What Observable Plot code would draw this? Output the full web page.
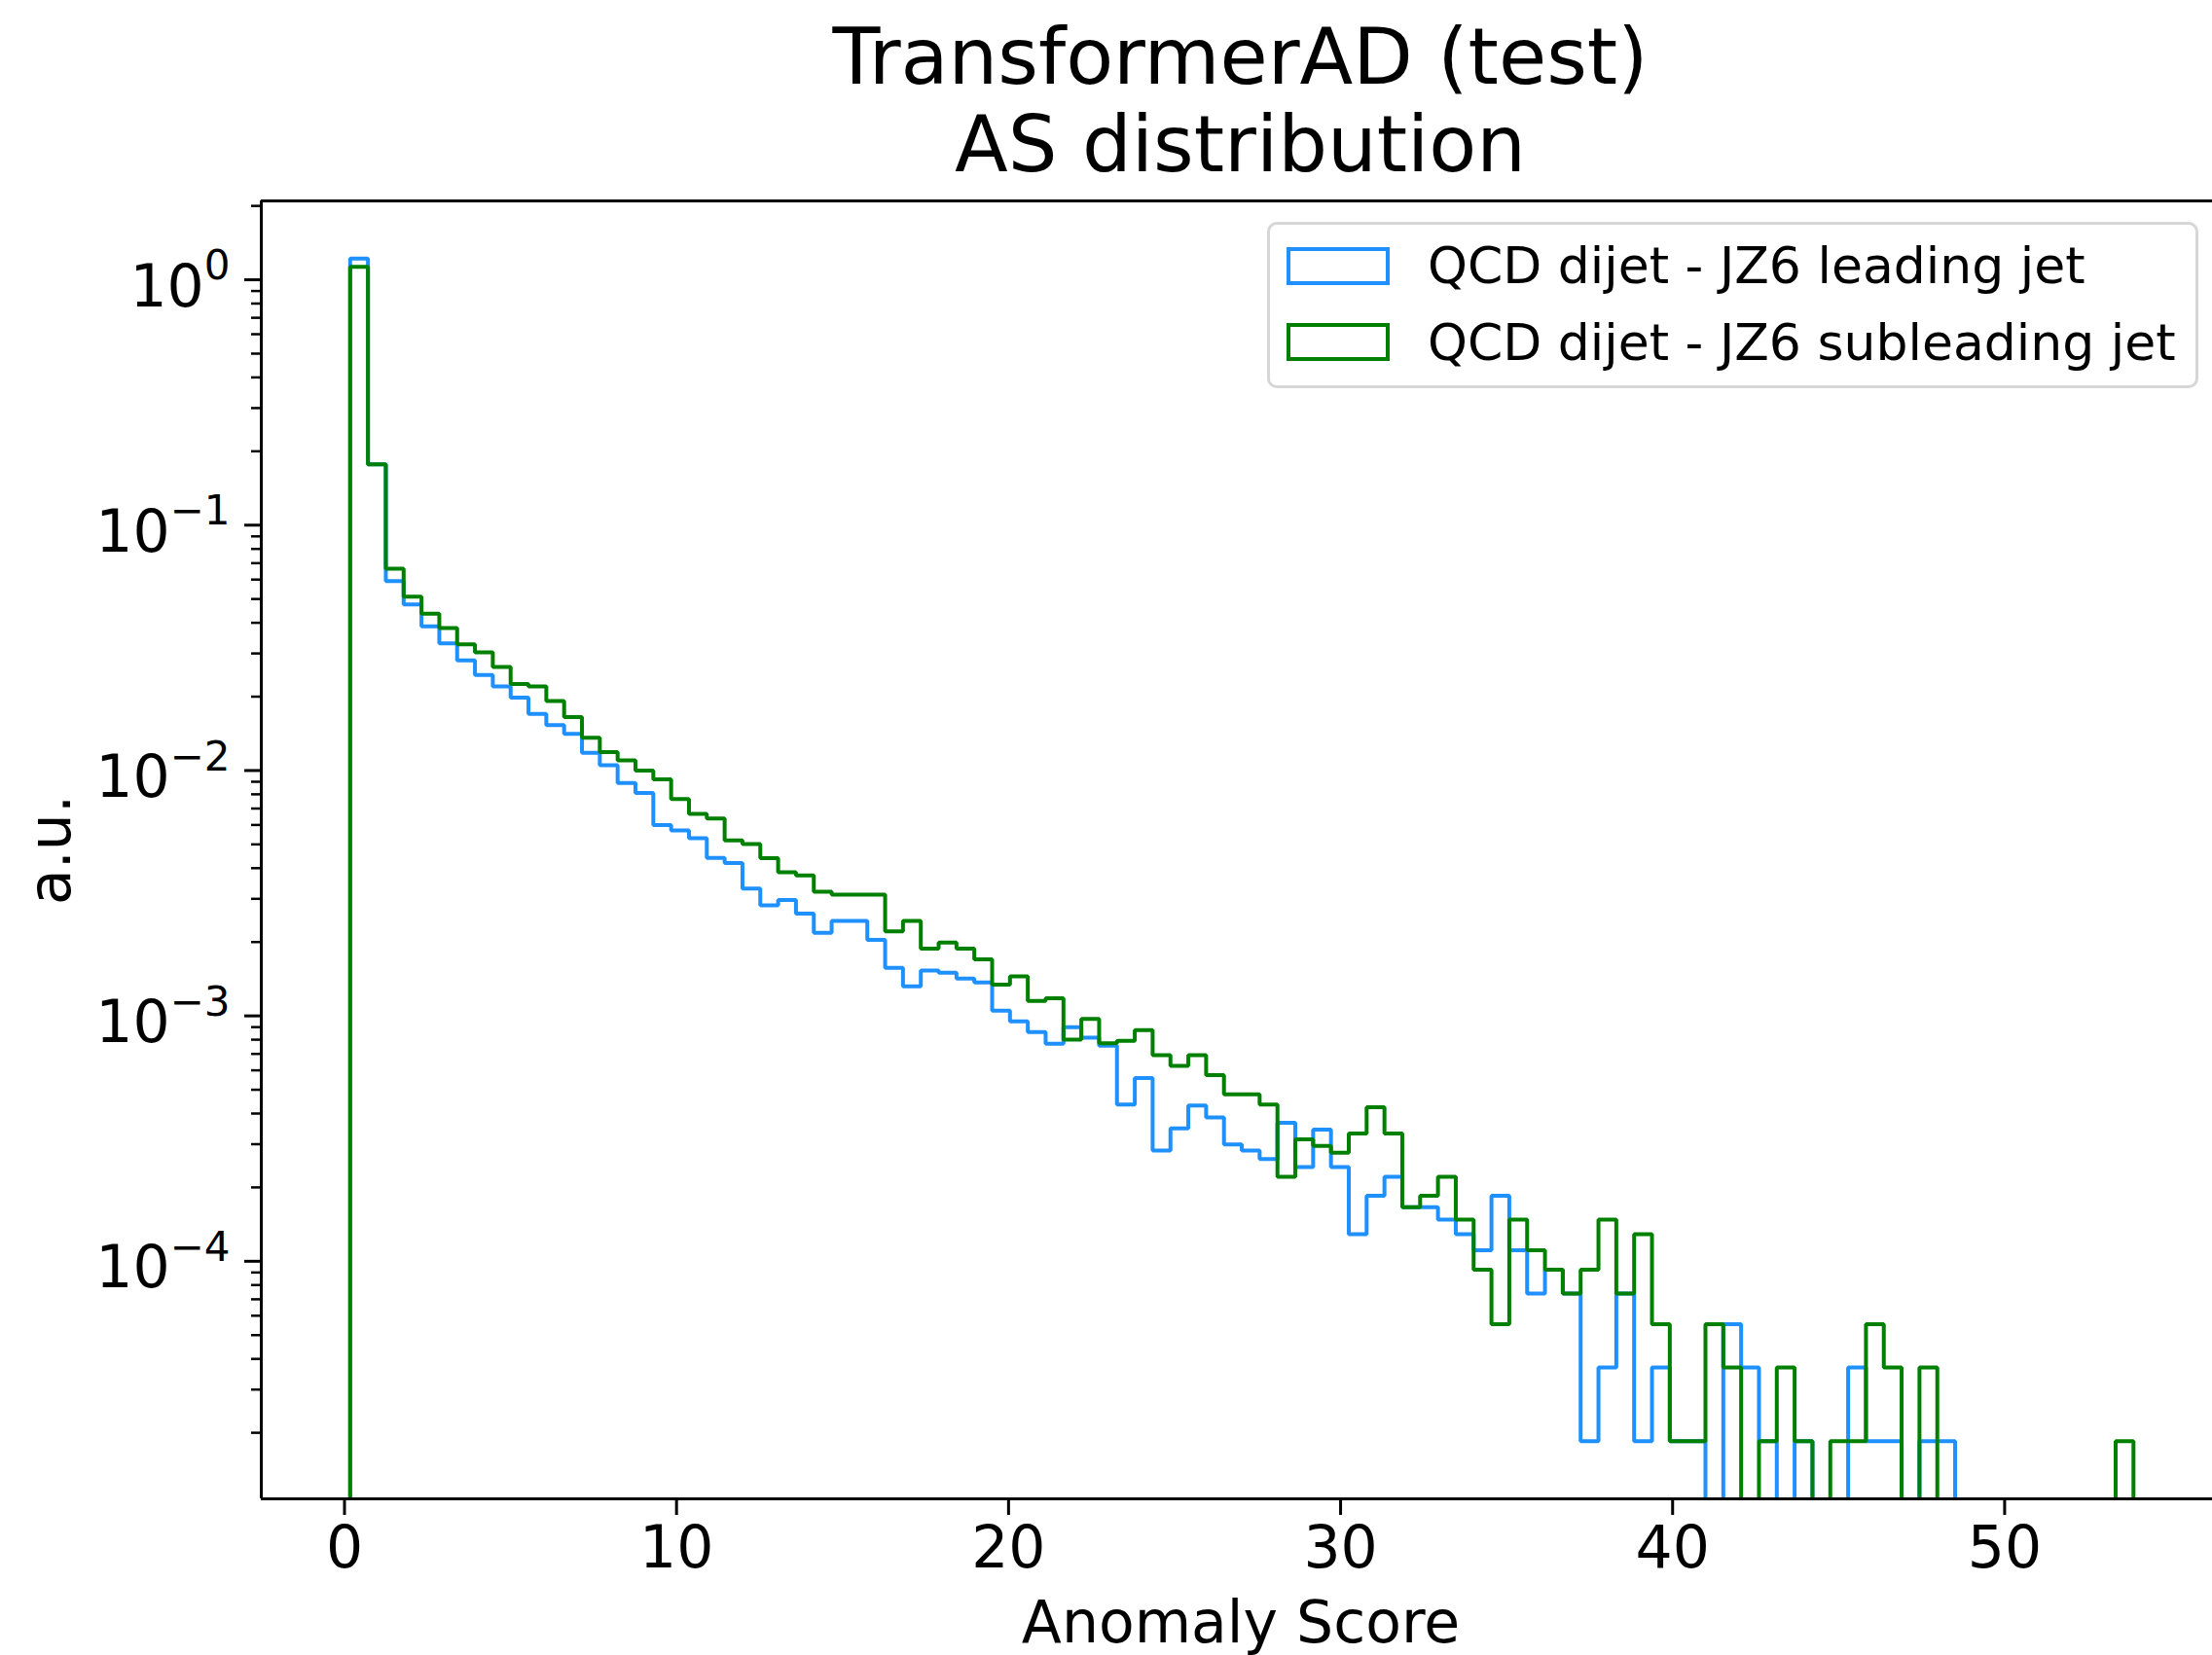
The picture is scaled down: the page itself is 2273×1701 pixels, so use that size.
<!DOCTYPE html>
<html>
<head>
<meta charset="utf-8">
<script src="https://cdn.jsdelivr.net/npm/d3@7"></script>
<script src="https://cdn.jsdelivr.net/npm/@observablehq/plot@0.6"></script>
<style>
html, body { margin: 0; padding: 0; background: #fff; overflow: hidden; }
#wrap { position: relative; width: 2273px; height: 1701px; font-family: "DejaVu Sans", sans-serif; color: #000; }
#title { position: absolute; left: 276px; width: 1997px; top: 14px; text-align: center; font-size: 80px; line-height: 90px; }
#chart { position: absolute; left: 0; top: 190px; }
#legend { position: absolute; left: 1302px; top: 228px; width: 957px; height: 171px; box-sizing: border-box;
  border: 3px solid #d6d6d6; border-radius: 10px; background: #fff; }
.handle { position: absolute; left: 17px; width: 106px; height: 39px; box-sizing: border-box; border: 4px solid; background: #fff; }
.ltext { position: absolute; left: 162px; height: 60px; line-height: 60px; font-size: 52px; white-space: nowrap; }
</style>
</head>
<body>
<div id="wrap">
  <div id="title">TransformerAD (test)<br>AS distribution</div>
  <div id="chart"></div>
  <div id="legend"></div>
</div>
<script>
// ---- data ----
const titleLines = ["TransformerAD (test)", "AS distribution"];
const xLabel = "Anomaly Score";
const yLabel = "a.u.";
const seriesNames = ["QCD dijet - JZ6 leading jet", "QCD dijet - JZ6 subleading jet"];
const seriesColors = ["#1e90ff", "#008000"];
const binLo = 0.17, binHi = 53.88, nBins = 100;

const leadingJet = [
  1.22, 0.177, 0.0591, 0.0475, 0.0387, 0.0330, 0.0281, 0.0245, 0.0220, 0.0198,
  0.0170, 0.0153, 0.0141, 0.0118, 0.0105, 0.0089, 0.0081, 0.0060, 0.0057, 0.0053,
  0.0044, 0.0042, 0.00330, 0.00282, 0.00297, 0.00261, 0.00218, 0.00244, 0.00244, 0.00204,
  0.00157, 0.00132, 0.00153, 0.00150, 0.00142, 0.00137, 0.00105, 0.00095, 0.00086, 0.00077,
  0.00090, 0.000815, 0.000757, 0.000435, 0.000558, 0.000283, 0.000348, 0.000431, 0.000386, 0.000299,
  0.000283, 0.000261, 0.000367, 0.000242, 0.000344, 0.000242, 0.000129, 0.000185, 0.000221, 0.000166,
  0.000166, 0.000148, 0.000129, 0.000111, 0.000185, 0.000111, 0.0000738, 0.0000923, 0.0000738, 0.0000185,
  0.0000369, 0.0000738, 0.0000185, 0.0000369, 0.0000185, 0.0000185, 0, 0.0000554, 0.0000369, 0.0000185,
  0, 0.0000185, 0, 0, 0.0000369, 0.0000185, 0.0000185, 0, 0.0000185, 0.0000185,
  0, 0, 0, 0, 0, 0, 0, 0, 0, 0
];
const subleadingJet = [
  1.13, 0.177, 0.0664, 0.0511, 0.0436, 0.0381, 0.0327, 0.0303, 0.0264, 0.0225,
  0.0220, 0.0192, 0.0165, 0.0136, 0.0119, 0.0110, 0.0100, 0.0092, 0.00766, 0.00665,
  0.00638, 0.00519, 0.00502, 0.00439, 0.00385, 0.00374, 0.00321, 0.00312, 0.00312, 0.00312,
  0.00221, 0.00244, 0.00188, 0.00199, 0.00188, 0.00170, 0.00134, 0.00145, 0.00115, 0.00118,
  0.00080, 0.000973, 0.000774, 0.000791, 0.000875, 0.000692, 0.000625, 0.000692, 0.000574, 0.000479,
  0.000479, 0.000435, 0.000221, 0.000314, 0.000295, 0.000277, 0.000332, 0.000424, 0.000332, 0.000166,
  0.000185, 0.000221, 0.000148, 0.0000923, 0.0000554, 0.000148, 0.000111, 0.0000923, 0.0000738, 0.0000923,
  0.000148, 0.0000738, 0.000129, 0.0000554, 0.0000185, 0.0000185, 0.0000554, 0.0000369, 0, 0.0000185,
  0.0000369, 0.0000185, 0, 0.0000185, 0.0000185, 0.0000554, 0.0000369, 0, 0.0000369, 0,
  0, 0, 0, 0, 0, 0, 0, 0, 0, 0.0000185
];
const xTicks = [0, 10, 20, 30, 40, 50];
const yTicks = [1e-4, 1e-3, 1e-2, 1e-1, 1];
const xLimits = [-2.506, 56.26];
const yLimits = [1.076e-5, 2.096];

// ---- build ----
const floorVal = 1e-9;
const edges = d3.range(nBins + 1).map(i => binLo + (binHi - binLo) * i / nBins);
function stepPoints(values) {
  const pts = [{x: edges[0], y: floorVal}];
  values.forEach((v, i) => pts.push({x: edges[i], y: v > 0 ? v : floorVal}));
  const last = values[values.length - 1];
  pts.push({x: edges[nBins], y: last > 0 ? last : floorVal});
  pts.push({x: edges[nBins], y: floorVal});
  return pts;
}
const minorTicks = [];
for (let e = -5; e <= 0; e++) for (let m = 2; m <= 9; m++) {
  const v = m * Math.pow(10, e);
  if (v > yLimits[0] && v < yLimits[1]) minorTicks.push(v);
}
const expFmt = d => "10^" + String(Math.round(Math.log10(d))).replace("-", "\u2212");

const chart = Plot.plot({
  width: 2273, height: 1511,
  marginTop: 16, marginRight: 0, marginBottom: 161, marginLeft: 268,
  style: {fontFamily: "DejaVu Sans", fontSize: "60px", color: "#000", background: "#fff", overflow: "visible"},
  x: {domain: xLimits},
  y: {type: "log", domain: yLimits},
  marks: [
    Plot.line(stepPoints(leadingJet), {x: "x", y: "y", curve: "step-after", stroke: seriesColors[0], strokeWidth: 4, strokeLinejoin: "miter", clip: true}),
    Plot.line(stepPoints(subleadingJet), {x: "x", y: "y", curve: "step-after", stroke: seriesColors[1], strokeWidth: 4, strokeLinejoin: "miter", clip: true}),
    Plot.ruleX([xLimits[0]], {stroke: "#000", strokeWidth: 3}),
    Plot.ruleY([yLimits[0]], {stroke: "#000", strokeWidth: 3}),
    Plot.ruleY([yLimits[1]], {stroke: "#000", strokeWidth: 3}),
    Plot.axisX({ticks: xTicks, tickSize: 17, tickPadding: 11, fontSize: 60, label: null, strokeWidth: 3, tickFormat: d => String(d)}),
    Plot.axisY({ticks: yTicks, tickSize: 17, tickPadding: 15, fontSize: 60, label: null, strokeWidth: 3, tickFormat: expFmt}),
    Plot.axisY({ticks: minorTicks, tickSize: 10, tickFormat: () => "", label: null, strokeWidth: 2.5}),
    Plot.text([xLabel], {text: d => d, frameAnchor: "bottom", lineAnchor: "middle", textAnchor: "middle", dy: 128, dx: 4, fontSize: 60}),
    Plot.text([yLabel], {text: d => d, frameAnchor: "left", lineAnchor: "middle", textAnchor: "middle", dx: -216, rotate: -90, fontSize: 60})
  ]
});
document.getElementById("chart").appendChild(chart);

// superscript exponents on the log axis labels
const NS = "http://www.w3.org/2000/svg";
chart.querySelectorAll('g[aria-label="y-axis tick label"] text').forEach(t => {
  const s = t.textContent;
  if (!s.includes("^")) return;
  const [base, exp] = s.split("^");
  t.textContent = "";
  t.setAttribute("y", "0.45em");
  const b = document.createElementNS(NS, "tspan");
  b.textContent = base;
  t.appendChild(b);
  const e = document.createElementNS(NS, "tspan");
  e.textContent = exp;
  e.setAttribute("font-size", "42");
  e.setAttribute("dy", "-0.65em");
  t.appendChild(e);
});

// legend
const legend = document.getElementById("legend");
const rowHandleTop = [23, 101];
const rowTextTop = [12, 91];
seriesNames.forEach((name, i) => {
  const h = document.createElement("div");
  h.className = "handle";
  h.style.top = rowHandleTop[i] + "px";
  h.style.borderColor = seriesColors[i];
  legend.appendChild(h);
  const t = document.createElement("div");
  t.className = "ltext";
  t.style.top = rowTextTop[i] + "px";
  t.textContent = name;
  legend.appendChild(t);
});
</script>
</body>
</html>
